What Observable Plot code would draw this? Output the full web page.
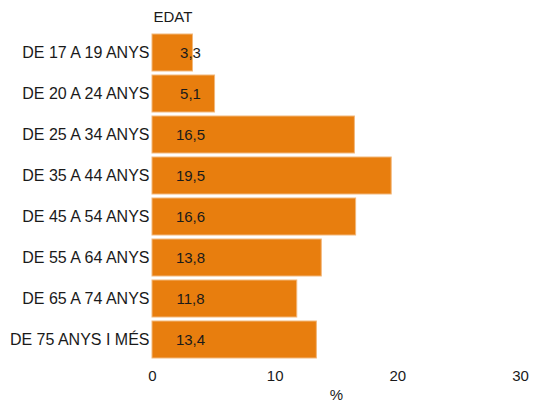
<!DOCTYPE html>
<html><head><meta charset="utf-8">
<script src="https://cdn.jsdelivr.net/npm/d3@7"></script>
<script src="https://cdn.jsdelivr.net/npm/@observablehq/plot@0.6"></script>
<style>body{margin:0;background:#fff;font-family:"Liberation Sans",Arial,sans-serif}</style>
</head><body><div id="chart"></div>
<script>
const categories = ["DE 17 A 19 ANYS","DE 20 A 24 ANYS","DE 25 A 34 ANYS","DE 35 A 44 ANYS","DE 45 A 54 ANYS","DE 55 A 64 ANYS","DE 65 A 74 ANYS","DE 75 ANYS I MÉS"];
const values = [3.3, 5.1, 16.5, 19.5, 16.6, 13.8, 11.8, 13.4];
const xTicks = [0, 10, 20, 30];
const data = categories.map((c, i) => ({cat: c, v: values[i]}));
const fmt = v => v.toFixed(1).replace(".", ",");
const chart = Plot.plot({
  width: 534, height: 403,
  marginLeft: 152, marginRight: 14, marginTop: 28, marginBottom: 40,
  style: {fontFamily: "'Liberation Sans', Arial, sans-serif", fontSize: "15px", color: "#1a1a1a", background: "#fff"},
  x: {domain: [0, 30], ticks: xTicks, tickSize: 0, tickPadding: 7, label: "%", labelAnchor: "center", labelArrow: "none", labelOffset: 36},
  y: {domain: categories, label: null, paddingInner: 0.1, paddingOuter: 0.05},
  marks: [
    Plot.barX(data, {y: "cat", x: "v", fill: "#e87e0e", stroke: "#f2b77a", strokeWidth: 1}),
    Plot.axisY({tickSize: 0, tickPadding: 3, fontSize: 16, label: null}),
    Plot.text(data, {y: "cat", x: 0, text: d => fmt(d.v), dx: 38, textAnchor: "middle", fill: "#1a1a1a", fontSize: 15}),
    Plot.text(["EDAT"], {frameAnchor: "top-left", text: d => d, lineAnchor: "bottom", dy: -7, dx: 1, fontSize: 15, fill: "#1a1a1a"})
  ]
});
document.getElementById("chart").append(chart);
</script></body></html>
